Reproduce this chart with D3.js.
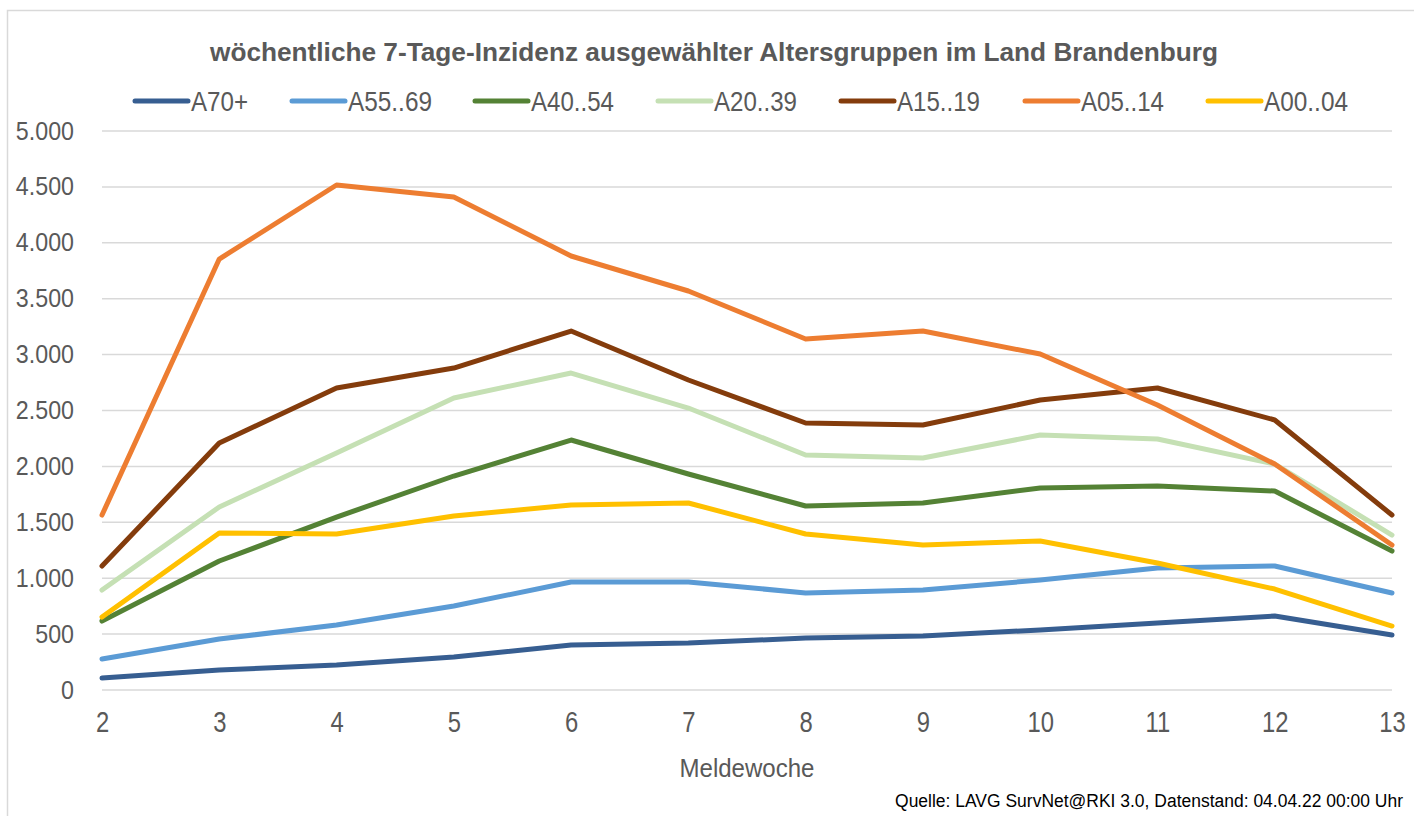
<!DOCTYPE html>
<html>
<head>
<meta charset="utf-8">
<script src="https://cdn.jsdelivr.net/npm/d3@7"></script>
<style>
  html, body { margin: 0; padding: 0; background: #fff; }
  svg { display: block; }
  text { font-family: 'Liberation Sans Narrow', 'Arial Narrow', 'Liberation Sans', Arial, sans-serif; fill: #595959; }
</style>
</head>
<body>
<svg id="chart" width="1414" height="816"></svg>
<script>
const weeks = [2, 3, 4, 5, 6, 7, 8, 9, 10, 11, 12, 13];
const seriesNames = ["A70+", "A55..69", "A40..54", "A20..39", "A15..19", "A05..14", "A00..04"];
const seriesColors = ["#375E91", "#5B9BD5", "#548235", "#C5E0B4", "#843C0C", "#ED7D31", "#FFC000"];
const a70 =   [107, 179, 224, 295, 402, 420, 465, 483, 537, 599, 662, 492];
const a55_69 = [277, 456, 581, 751, 966, 966, 868, 894, 984, 1091, 1109, 868];
const a40_54 = [617, 1154, 1547, 1914, 2236, 1932, 1646, 1673, 1807, 1825, 1780, 1243];
const a20_39 = [894, 1637, 2120, 2612, 2835, 2522, 2102, 2075, 2281, 2245, 2021, 1386];
const a15_19 = [1109, 2209, 2701, 2880, 3211, 2773, 2388, 2370, 2594, 2701, 2415, 1565];
const a05_14 = [1565, 3855, 4517, 4410, 3882, 3569, 3140, 3211, 3005, 2549, 2021, 1297];
const a00_04 = [653, 1404, 1395, 1556, 1655, 1673, 1395, 1297, 1333, 1136, 903, 572];
const yTicks = [0, 500, 1000, 1500, 2000, 2500, 3000, 3500, 4000, 4500, 5000];
const titleText = "wöchentliche 7-Tage-Inzidenz ausgewählter Altersgruppen im Land Brandenburg";
const xTitle = "Meldewoche";
const sourceText = "Quelle: LAVG SurvNet@RKI 3.0, Datenstand: 04.04.22 00:00 Uhr";

const seriesValues = [a70, a55_69, a40_54, a20_39, a15_19, a05_14, a00_04];

const svg = d3.select("#chart");
const de = d3.formatLocale({decimal: ",", thousands: ".", grouping: [3], currency: ["", " €"]});
const fmt = de.format(",");
const FONT = "'Liberation Sans Narrow', 'Arial Narrow', 'Liberation Sans', Arial, sans-serif";

// border
svg.append("rect").attr("x", 7.5).attr("y", 10.5).attr("width", 1420).attr("height", 820)
  .attr("fill", "none").attr("stroke", "#d9d9d9").attr("stroke-width", 1.5);

const x = d3.scaleLinear().domain([2, 13]).range([102, 1392]);
const y = d3.scaleLinear().domain([0, 5000]).range([690, 131]);

// gridlines
svg.append("g").selectAll("line").data(yTicks).join("line")
  .attr("x1", x(2)).attr("x2", x(13))
  .attr("y1", d => y(d)).attr("y2", d => y(d))
  .attr("stroke", "#d9d9d9").attr("stroke-width", 1.5);

// y axis labels
const yAxis = d3.axisLeft(y).tickValues(yTicks).tickFormat(fmt).tickSize(0).tickPadding(0);
const gy = svg.append("g").attr("transform", "translate(74,0)").call(yAxis);
gy.select(".domain").remove();
gy.selectAll("text").attr("font-size", 25).attr("fill", "#595959").style("font-family", FONT)
  .each(function() {
    const w = this.getComputedTextLength();
    d3.select(this).attr("textLength", w * 0.93).attr("lengthAdjust", "spacingAndGlyphs");
  });

// x axis labels
const xAxis = d3.axisBottom(x).tickValues(weeks).tickFormat(d3.format("d")).tickSize(0).tickPadding(0);
const gx = svg.append("g").attr("transform", "translate(0,711)").call(xAxis);
gx.select(".domain").remove();
gx.selectAll("text").attr("font-size", 29).attr("fill", "#595959").style("font-family", FONT)
  .each(function() {
    const w = this.getComputedTextLength();
    d3.select(this).attr("textLength", w * 0.82).attr("lengthAdjust", "spacingAndGlyphs");
  });

// lines
const line = d3.line().x((d, i) => x(weeks[i])).y(d => y(d));
svg.append("g").selectAll("path").data(seriesValues).join("path")
  .attr("d", d => line(d))
  .attr("fill", "none")
  .attr("stroke", (d, i) => seriesColors[i])
  .attr("stroke-width", 5)
  .attr("stroke-linejoin", "round")
  .attr("stroke-linecap", "round");

// title
svg.append("text").attr("x", 714).attr("y", 61).attr("text-anchor", "middle")
  .attr("font-size", 26).attr("font-weight", "bold").attr("textLength", 1008).attr("lengthAdjust", "spacingAndGlyphs")
  .text(titleText);

// legend
const legendX = [133, 290, 473, 656, 839, 1023, 1206];
const legendW = [57, 84, 83, 83, 83, 83, 84];
const lg = svg.append("g").selectAll("g").data(seriesNames).join("g")
  .attr("transform", (d, i) => `translate(${legendX[i]},101)`);
lg.append("line").attr("x1", 2).attr("x2", 55).attr("y1", 0).attr("y2", 0)
  .attr("stroke", (d, i) => seriesColors[i]).attr("stroke-width", 5).attr("stroke-linecap", "round");
lg.append("text").attr("x", 58).attr("y", 10).attr("font-size", 28)
  .attr("textLength", (d, i) => legendW[i]).attr("lengthAdjust", "spacingAndGlyphs")
  .text(d => d);

// x title
svg.append("text").attr("x", 747).attr("y", 777).attr("text-anchor", "middle")
  .attr("font-size", 26).attr("textLength", 135).attr("lengthAdjust", "spacingAndGlyphs").text(xTitle);

// source
svg.append("g").attr("transform", "translate(1403,807) scale(0.92,1)")
  .append("text").attr("x", 0).attr("y", 0).attr("text-anchor", "end")
  .attr("font-size", 19).style("fill", "#000")
  .text(sourceText);
</script>
</body>
</html>
